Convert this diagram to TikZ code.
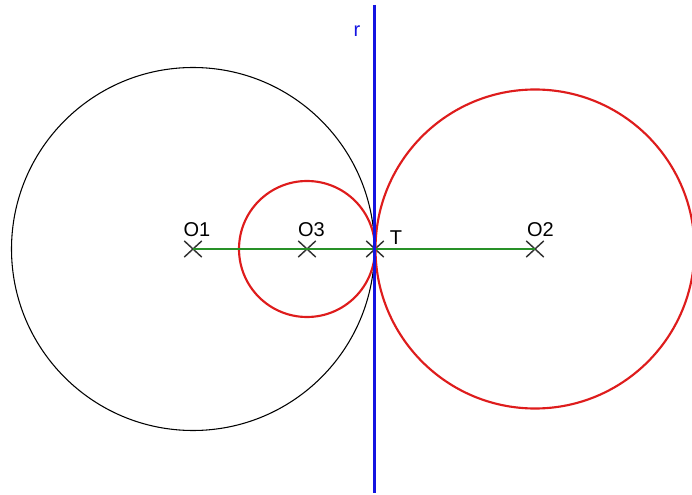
\documentclass[tikz,border=0pt]{standalone}
\usepackage{fontspec}
\setmainfont{Liberation Sans}
\usepackage{xcolor}
\usetikzlibrary{shapes.misc}
\definecolor{cred}{RGB}{222,28,28}
\definecolor{cblue}{RGB}{20,20,225}
\definecolor{cgreen}{RGB}{40,145,40}
\begin{document}
\begin{tikzpicture}[x=0.75pt, y=-0.75pt,
  pt/.style={cross out, draw=black!80, line width=1.1pt, minimum width=12pt, minimum height=11pt, inner sep=0pt},
  lab/.style={font=\fontsize{15}{18}\selectfont, anchor=base, inner sep=0pt}
]
\useasboundingbox (0,0) rectangle (692,495);
% centres and tangency point
\node[pt] (O1) at (193,249) {};
\node[pt] (O3) at (307,249) {};
\node[pt] (T) at (375,249) {};
\node[pt] (O2) at (535,249) {};
\coordinate (rtop) at (374.5,5);
\coordinate (rbot) at (374.5,493);
% circles
\draw[black, line width=0.8pt] (O1.center) circle[radius=181.5];
\draw[cred, line width=1.6pt] (O3.center) circle[radius=68];
\draw[cred, line width=1.6pt] (O2.center) circle[radius=159.5];
% line of centres and tangent r
\draw[cgreen, line width=0.9pt] (O1.center) -- (O2.center);
\draw[cblue, line width=2pt] (rtop) -- (rbot);
\node[lab, text=cblue] (rlab) at (357,37) {r};
% labels
\node[lab] (l1) at (197,236.5) {O1};
\node[lab] (l3) at (311.5,236.5) {O3};
\node[lab] (lT) at (396,244) {T};
\node[lab] (l2) at (540.5,236.5) {O2};
\end{tikzpicture}
\end{document}
